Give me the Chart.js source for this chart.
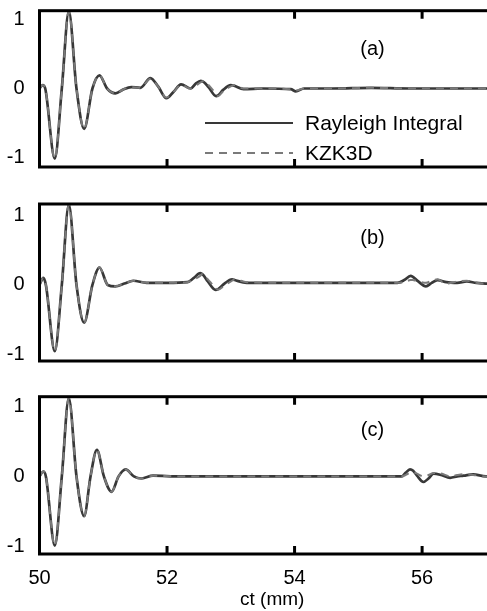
<!DOCTYPE html>
<html>
<head>
<meta charset="utf-8">
<script src="https://cdn.jsdelivr.net/npm/chart.js@4.4.1/dist/chart.umd.min.js"></script>
<style>
  html, body { margin: 0; padding: 0; background: #fff; overflow: hidden; width: 487px; height: 611px; }
  canvas { position: absolute; left: 0; }
</style>
</head>
<body>
<canvas id="panelA" width="510" height="180" style="top:0px"></canvas>
<canvas id="panelB" width="510" height="180" style="top:190px"></canvas>
<canvas id="panelC" width="510" height="231" style="top:380px"></canvas>
<script>
// ct (mm) sample points and normalised pressure
const tA = [50.00, 50.05, 50.09, 50.24, 50.35, 50.46, 50.58, 50.70, 50.83, 50.94,
  51.06, 51.19, 51.32, 51.44, 51.58, 51.74, 51.86, 51.99, 52.10, 52.22,
  52.37, 52.45, 52.53, 52.58, 52.65, 52.77, 52.80, 52.88, 53.00, 53.05,
  53.20, 53.50, 53.94, 54.02, 54.15, 54.60, 55.20, 55.80, 56.40, 57.00, 57.30];
const rayleighA = [0, 0.05, 0, -1.01, 0, 1.11, 0, -0.58, 0, 0.19,
  0, -0.07, -0.01, 0.02, 0.01, 0.15, 0.03, -0.14, -0.05, 0.06,
  0.0, 0.07, 0.11, 0.09, 0.02, -0.11, -0.10, -0.02, 0.05, 0.04,
  -0.01, 0.0, -0.01, -0.04, 0, 0, 0.01, 0, 0, 0, 0];
const kzkA = [0, 0.05, 0, -1.01, 0, 1.11, 0, -0.58, 0, 0.19,
  0, -0.07, -0.01, 0.02, 0.01, 0.14, 0.03, -0.13, -0.05, 0.05,
  0.0, 0.04, 0.09, 0.11, 0.05, -0.08, -0.11, -0.04, 0.03, 0.05,
  0.0, 0.0, -0.01, -0.03, 0, 0, 0.01, 0, 0, 0, 0];

const tB = [50.00, 50.06, 50.10, 50.24, 50.35, 50.46, 50.58, 50.70, 50.83, 50.94,
  51.07, 51.19, 51.33, 51.47, 51.68, 52.00, 52.32, 52.42, 52.52, 52.56,
  52.64, 52.76, 52.80, 52.90, 53.02, 53.06, 53.25, 54.00, 55.00, 55.61,
  55.72, 55.82, 55.85, 55.94, 56.06, 56.15, 56.24, 56.38, 56.50, 56.55,
  56.70, 56.85, 57.00, 57.30];
const rayleighB = [0, 0.10, 0, -0.95, 0, 1.15, 0, -0.54, 0, 0.25,
  0, -0.02, 0.02, 0.06, 0.03, 0.03, 0.04, 0.10, 0.17, 0.15,
  0.05, -0.07, -0.06, 0.02, 0.08, 0.07, 0.03, 0.03, 0.03, 0.03,
  0.07, 0.13, 0.12, 0.05, -0.02, 0.03, 0.07, 0.04, 0.03, 0.03,
  0.05, 0.03, 0.02, 0.02];
const kzkB = [0, 0.10, 0, -0.95, 0, 1.15, 0, -0.54, 0, 0.25,
  0, -0.02, 0.02, 0.06, 0.03, 0.03, 0.04, 0.08, 0.13, 0.16,
  0.08, -0.04, -0.07, -0.01, 0.06, 0.08, 0.04, 0.03, 0.03, 0.03,
  0.04, 0.07, 0.07, 0.05, 0.03, 0.06, 0.08, 0.02, 0.04, 0.05,
  0.06, 0.03, 0.02, 0.02];

const tC = [50.00, 50.06, 50.10, 50.24, 50.35, 50.46, 50.58, 50.70, 50.80, 50.90,
  51.01, 51.13, 51.24, 51.35, 51.48, 51.60, 51.78, 52.20, 53.00, 54.00,
  55.00, 55.68, 55.74, 55.81, 55.86, 55.92, 56.02, 56.10, 56.18, 56.30,
  56.44, 56.55, 56.65, 56.80, 57.00, 57.30];
const rayleighC = [0, 0.07, 0, -0.99, 0, 1.12, 0, -0.57, 0, 0.38,
  0, -0.22, 0, 0.10, 0, -0.03, 0.01, 0, 0, 0,
  0, 0, 0.05, 0.10, 0.08, 0.01, -0.08, -0.03, 0.04, 0.02,
  -0.02, 0.0, 0.01, 0.03, 0, 0];
const kzkC = [0, 0.07, 0, -0.99, 0, 1.12, 0, -0.57, 0, 0.38,
  0, -0.22, 0, 0.10, 0, -0.03, 0.01, 0, 0, 0,
  0, 0, 0.02, 0.05, 0.06, 0.04, 0.0, 0.02, 0.05, 0.04,
  0.0, 0.02, 0.03, 0.02, 0, 0];

const xTicks = [50, 52, 54, 56];
const yTicks = [-1, 0, 1];
const seriesNames = ['Rayleigh Integral', 'KZK3D'];
const panelNames = ['(a)', '(b)', '(c)'];

const FONT = '"Liberation Sans", Arial, Helvetica, sans-serif';

function toPoints(t, v) {
  return t.map((x, i) => ({ x: x, y: v[i] }));
}

// box round the plot area, ticks pointing inwards, panel letter, optional legend
const framePlugin = {
  id: 'frame',
  afterDatasetsDraw(chart, args, opts) {
    const { ctx, chartArea: a, scales } = chart;
    ctx.save();
    ctx.strokeStyle = '#000';
    ctx.lineWidth = 3;
    ctx.strokeRect(a.left, a.top, a.right - a.left, a.bottom - a.top);
    xTicks.forEach(v => {
      if (v === scales.x.min) return;
      const px = scales.x.getPixelForValue(v);
      ctx.beginPath();
      ctx.moveTo(px, a.top);
      ctx.lineTo(px, a.top + 8);
      ctx.moveTo(px, a.bottom);
      ctx.lineTo(px, a.bottom - 8);
      ctx.stroke();
    });

    ctx.fillStyle = '#000';
    ctx.font = '20px ' + FONT;
    ctx.textAlign = 'center';
    ctx.textBaseline = 'middle';
    ctx.fillText(opts.label, opts.labelX, opts.labelY);

    if (opts.legend) {
      const ds = chart.data.datasets;
      const rows = [123, 153];
      ctx.font = '21px ' + FONT;
      ctx.textAlign = 'left';
      rows.forEach((y, i) => {
        ctx.save();
        ctx.strokeStyle = ds[i].borderColor;
        ctx.lineWidth = 2;
        ctx.setLineDash(ds[i].borderDash || []);
        ctx.beginPath();
        ctx.moveTo(205, y);
        ctx.lineTo(293, y);
        ctx.stroke();
        ctx.restore();
        ctx.fillText(ds[i].label, 305, y + 1);
      });
    }
    ctx.restore();
  }
};

function makePanel(id, t, ray, kzk, yMin, yMax, cfg) {
  const ctx = document.getElementById(id).getContext('2d');
  return new Chart(ctx, {
    type: 'line',
    data: {
      datasets: [
        {
          label: seriesNames[0],
          data: toPoints(t, ray),
          borderColor: '#383838',
          borderWidth: 2.7,
          pointRadius: 0,
          cubicInterpolationMode: 'monotone',
          order: 2
        },
        {
          label: seriesNames[1],
          data: toPoints(t, kzk),
          borderColor: '#7a7a7a',
          borderWidth: 2,
          borderDash: [8, 6],
          pointRadius: 0,
          cubicInterpolationMode: 'monotone',
          order: 1
        }
      ]
    },
    options: {
      responsive: false,
      animation: false,
      devicePixelRatio: 1,
      layout: { padding: { left: 0, right: 5, top: cfg.top, bottom: cfg.bottom } },
      plugins: {
        legend: { display: false },
        tooltip: { enabled: false },
        frame: { label: cfg.label, labelX: 372.5, labelY: cfg.labelY, legend: cfg.legend }
      },
      scales: {
        x: {
          type: 'linear',
          min: 50,
          max: 57.3,
          display: cfg.showX,
          afterBuildTicks: s => { s.ticks = xTicks.map(v => ({ value: v })); },
          afterFit: s => {
            if (cfg.showX) s.height = 57;
            s.paddingLeft = 0; s.paddingRight = 0;
          },
          grid: { display: false, drawTicks: false },
          border: { display: false },
          ticks: { color: '#000', padding: 12, maxRotation: 0, font: { family: FONT, size: 20 } },
          title: {
            display: true,
            text: 'ct (mm)',
            color: '#000',
            padding: { top: 0, bottom: 0 },
            font: { family: FONT, size: 19 }
          }
        },
        y: {
          min: yMin,
          max: yMax,
          afterBuildTicks: s => { s.ticks = yTicks.map(v => ({ value: v })); },
          afterFit: s => { s.width = 39.5; s.paddingTop = 0; s.paddingBottom = 0; },
          grid: { display: false, drawTicks: false },
          border: { display: false },
          ticks: { color: '#000', padding: 15, font: { family: FONT, size: 20 } }
        }
      }
    },
    plugins: [framePlugin]
  });
}

makePanel('panelA', tA, rayleighA, kzkA, -1.13, 1.12,
  { top: 10.7, bottom: 13, showX: false, label: panelNames[0], labelY: 49, legend: true });
makePanel('panelB', tB, rayleighB, kzkB, -1.09, 1.16,
  { top: 14, bottom: 9, showX: false, label: panelNames[1], labelY: 48, legend: false });
makePanel('panelC', tC, rayleighC, kzkC, -1.11, 1.14,
  { top: 16.7, bottom: 0, showX: true, label: panelNames[2], labelY: 50, legend: false });
</script>
</body>
</html>
